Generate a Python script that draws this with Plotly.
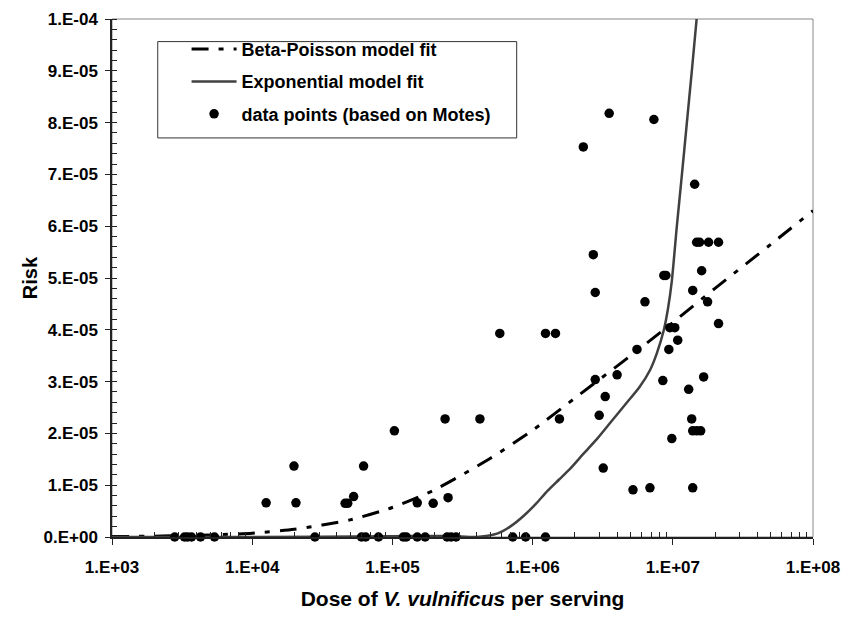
import plotly.graph_objects as go

# ---- data ----
dose_points = [
    2800, 3290, 3460, 3690, 4280, 5380, 28000, 60200, 64400, 79600,
    119700, 125700, 150400, 171300, 245500, 262000, 284300, 721600, 891900, 1236000,
    12570, 19860, 20510, 46000, 48000, 52900, 62300, 103300, 150400, 195400,
    237600, 249500, 421000, 583500, 1236000, 1456000, 1554000, 2985000, 3190000, 5200000,
    6870000, 9840000, 13640000, 13870000, 14800000, 15800000, 13870000, 3517000, 7330000, 2300000,
    14320000, 14800000, 15520000, 17990000, 21190000, 2710000, 16060000, 8630000, 8920000, 2798000,
    13870000, 6330000, 17710000, 21190000, 9520000, 10330000, 10840000, 5554000, 9370000, 2798000,
    4006000, 8490000, 12980000, 16600000, 3296000,
]
risk_points = [
    0, 0, 0, 0, 0, 0, 0, 0, 0, 0,
    0, 0, 0, 0, 0, 0, 0, 0, 0, 0,
    6.6e-6, 1.37e-5, 6.6e-6, 6.5e-6, 6.5e-6, 7.8e-6, 1.37e-5, 2.05e-5, 6.6e-6, 6.5e-6,
    2.28e-5, 7.6e-6, 2.28e-5, 3.93e-5, 3.93e-5, 3.93e-5, 2.28e-5, 2.35e-5, 1.33e-5, 9.1e-6,
    9.5e-6, 1.90e-5, 2.28e-5, 2.05e-5, 2.05e-5, 2.05e-5, 9.5e-6, 8.18e-5, 8.06e-5, 7.53e-5,
    6.81e-5, 5.69e-5, 5.69e-5, 5.69e-5, 5.69e-5, 5.45e-5, 5.14e-5, 5.05e-5, 5.05e-5, 4.72e-5,
    4.76e-5, 4.54e-5, 4.54e-5, 4.12e-5, 4.04e-5, 4.04e-5, 3.80e-5, 3.62e-5, 3.62e-5, 3.04e-5,
    3.13e-5, 3.02e-5, 2.85e-5, 3.09e-5, 2.71e-5,
]

bp_dose = [1e3, 2e3, 5e3, 1e4, 2e4, 5e4, 1e5, 2e5, 5e5, 1e6, 2e6, 5e6, 1e7, 2e7, 5e7, 1e8]
bp_risk = [8e-8, 1.6e-7, 3.9e-7, 7.4e-7, 1.5e-6, 3.3e-6, 5.7e-6, 9.1e-6, 1.52e-5, 2.06e-5,
           2.68e-5, 3.5e-5, 4.14e-5, 4.8e-5, 5.65e-5, 6.3e-5]

exp_dose = [1e3, 1e4, 1e5, 2.5e5, 3.96e5, 4.8e5, 5.65e5, 7.0e5, 8.73e5, 1.055e6, 1.277e6,
            1.546e6, 1.87e6, 2.327e6, 2.892e6, 3.69e6, 4.72e6, 5.74e6, 6.9e6, 7.7e6,
            8.62e6, 9.23e6, 9.84e6, 1.067e7, 1.158e7, 1.257e7, 1.365e7, 1.479e7]
exp_risk = [0, 0, 1.5e-7, 2e-7, 0, 2.5e-7, 7e-7, 2.1e-6, 4.2e-6, 6.4e-6, 8.9e-6,
            1.11e-5, 1.33e-5, 1.62e-5, 1.90e-5, 2.25e-5, 2.60e-5, 2.88e-5, 3.23e-5, 3.55e-5,
            3.99e-5, 4.40e-5, 4.94e-5, 5.98e-5, 6.96e-5, 7.97e-5, 8.98e-5, 1.0e-4]

x_tick_vals = [1e3, 1e4, 1e5, 1e6, 1e7, 1e8]
x_tick_text = ["1.E+03", "1.E+04", "1.E+05", "1.E+06", "1.E+07", "1.E+08"]
y_tick_vals = [i * 1e-5 for i in range(11)]
y_tick_text = ["0.E+00", "1.E-05", "2.E-05", "3.E-05", "4.E-05", "5.E-05",
               "6.E-05", "7.E-05", "8.E-05", "9.E-05", "1.E-04"]

FONT = "Liberation Sans, Arial, Helvetica, sans-serif"
AX = "#222222"

fig = go.Figure()
fig.add_trace(go.Scatter(
    x=bp_dose, y=bp_risk, mode="lines", name="Beta-Poisson model fit",
    line=dict(color="black", width=3, dash="17px,10px,5px,10px", shape="spline", smoothing=0.6),
    legendgroup="a",
))
fig.add_trace(go.Scatter(
    x=exp_dose, y=exp_risk, mode="lines", name="Exponential model fit",
    line=dict(color="#404040", width=2.5, shape="spline", smoothing=0.6),
    legendgroup="b",
))
fig.add_trace(go.Scatter(
    x=dose_points, y=risk_points, mode="markers", name="data points (based on Motes)",
    marker=dict(color="black", size=9.5), cliponaxis=False,
    legendgroup="c",
))

minor_x = [m * 10 ** e for e in range(3, 8) for m in range(2, 10)]

fig.update_layout(
    width=850, height=617,
    margin=dict(l=112, r=33, t=10, b=80),
    plot_bgcolor="white", paper_bgcolor="white",
    font=dict(family=FONT, color="black"),
    showlegend=True,
    legend=dict(
        x=(187 - 112) / 705, y=(537 - 22) / 527, xanchor="left", yanchor="top",
        bgcolor="rgba(0,0,0,0)", borderwidth=0,
        font=dict(size=18, weight="bold", family=FONT),
        tracegroupgap=6, itemwidth=45,
    ),
    xaxis=dict(
        type="log", range=[3, 8],
        tickmode="array", tickvals=x_tick_vals, ticktext=x_tick_text,
        ticks="outside", ticklen=6, tickcolor=AX, tickwidth=1.2,
        showline=True, linecolor=AX, linewidth=1.5,
        showgrid=False, zeroline=False,
        tickfont=dict(size=17, weight="bold", family=FONT),
        ticklabelstandoff=8,
        minor=dict(tickmode="array", tickvals=minor_x, ticks="inside", ticklen=5,
                   tickcolor=AX, tickwidth=1.2, showgrid=False),
        title=dict(text="Dose of <i>V. vulnificus</i> per serving",
                   font=dict(size=21, weight="bold", family=FONT), standoff=15),
    ),
    yaxis=dict(
        range=[0, 1e-4],
        tickmode="array", tickvals=y_tick_vals, ticktext=y_tick_text,
        ticks="outside", ticklen=5, tickcolor=AX, tickwidth=1.2,
        showline=True, linecolor=AX, linewidth=1.5,
        showgrid=False, zeroline=False,
        tickfont=dict(size=17, weight="bold", family=FONT),
        ticklabelstandoff=4,
        minor=dict(dtick=2e-6, ticks="inside", ticklen=5,
                   tickcolor=AX, tickwidth=1.2, showgrid=False),
        title=dict(text="Risk", font=dict(size=20, weight="bold", family=FONT), standoff=0),
    ),
    shapes=[
        dict(type="rect", xref="paper", yref="paper", x0=0, x1=1, y0=0, y1=1,
             line=dict(color="#888888", width=1), layer="below"),
        dict(type="rect", xref="paper", yref="paper",
             x0=(158 - 112) / 705, x1=(519 - 112) / 705,
             y0=(537 - 131) / 527, y1=(537 - 33) / 527,
             line=dict(color="#333333", width=1), fillcolor="rgba(0,0,0,0)", layer="above"),
    ],
)

fig.write_html("out.html")
